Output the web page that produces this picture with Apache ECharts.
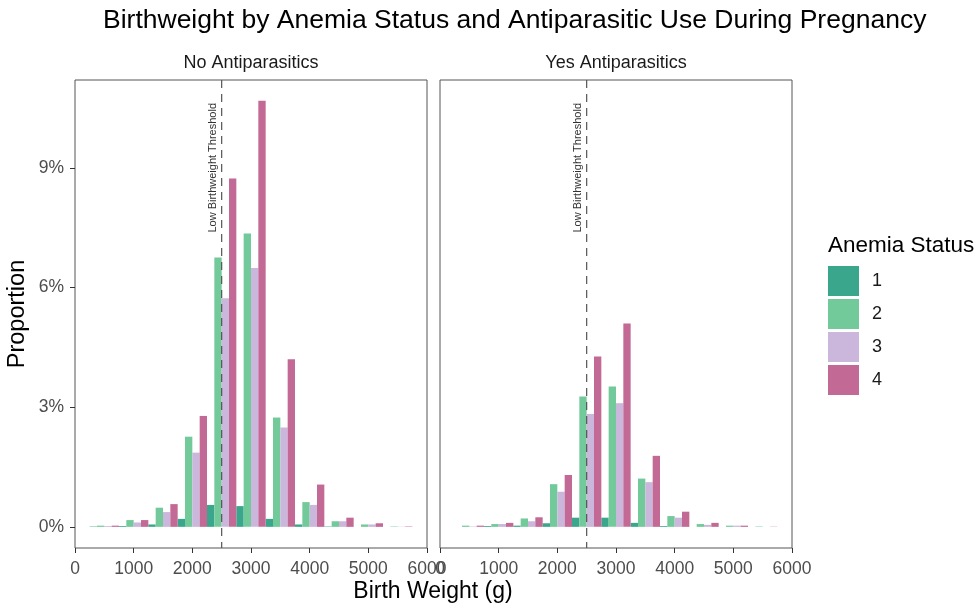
<!DOCTYPE html>
<html>
<head>
<meta charset="utf-8">
<script src="https://cdn.jsdelivr.net/npm/echarts@6/dist/echarts.min.js"></script>
<style>
  html, body { margin: 0; padding: 0; background: #fff; }
  #chart { width: 979px; height: 607px; }
</style>
</head>
<body>
<div id="chart"></div>
<script>
// bin centres (g), each bin 500 g wide, 4 anemia groups dodged inside
const binCenters = [500, 1000, 1500, 2000, 2500, 3000, 3500, 4000, 4500, 5000, 5500];
const binWidth = 500;
const statuses = ["1", "2", "3", "4"];
const colors = ["#3aa68b", "#72c99a", "#cbb6dc", "#c36995"];
const lowBwThreshold = 2500;
const thresholdLabelY = 9; // percent

// proportions in percent
const noAnti1 = [0.01, 0.02, 0.06, 0.20, 0.55, 0.52, 0.20, 0.06, 0.01, 0, 0];
const noAnti2 = [0.03, 0.17, 0.48, 2.26, 6.75, 7.35, 2.74, 0.62, 0.14, 0.06, 0.01];
const noAnti3 = [0.02, 0.11, 0.37, 1.86, 5.73, 6.49, 2.49, 0.55, 0.14, 0.06, 0.005];
const noAnti4 = [0.03, 0.17, 0.57, 2.78, 8.73, 10.68, 4.20, 1.06, 0.23, 0.09, 0.01];

const yesAnti1 = [0, 0.02, 0.03, 0.09, 0.23, 0.23, 0.10, 0.02, 0, 0, 0];
const yesAnti2 = [0.03, 0.07, 0.21, 1.07, 3.27, 3.52, 1.21, 0.27, 0.07, 0.03, 0.01];
const yesAnti3 = [0.01, 0.07, 0.14, 0.88, 2.83, 3.10, 1.12, 0.23, 0.05, 0.03, 0];
const yesAnti4 = [0.03, 0.10, 0.24, 1.30, 4.27, 5.10, 1.78, 0.38, 0.10, 0.03, 0.005];

const yTicks = [0, 3, 6, 9];

const facets = [
  { name: "No Antiparasitics", series: [noAnti1, noAnti2, noAnti3, noAnti4] },
  { name: "Yes Antiparasitics", series: [yesAnti1, yesAnti2, yesAnti3, yesAnti4] }
];

const font = "Liberation Sans, Arial, Helvetica, sans-serif";
const panelLefts = [75, 440];
const panelWidth = 352;

function barRender(params, api) {
  const c = api.value(0), v = api.value(1), k = api.value(2);
  if (!v) return null;
  const x0 = c - binWidth / 2 + k * binWidth / 4;
  const p0 = api.coord([x0, 0]);
  const p1 = api.coord([x0 + binWidth / 4, v]);
  return {
    type: "rect",
    shape: { x: p0[0], y: p1[1], width: p1[0] - p0[0], height: p0[1] - p1[1] },
    style: api.style()
  };
}

function thresholdRender(params, api) {
  const cs = params.coordSys;
  const p = api.coord([api.value(0), api.value(1)]);
  return {
    type: "group",
    children: [
      {
        type: "line",
        shape: { x1: p[0], y1: cs.y, x2: p[0], y2: cs.y + cs.height },
        style: { stroke: "#555", lineWidth: 1.2, lineDash: [8, 6] }
      },
      {
        type: "text",
        x: p[0] - 3,
        y: p[1],
        rotation: Math.PI / 2,
        style: {
          text: "Low Birthweight Threshold",
          fontSize: 11,
          fontFamily: font,
          fill: "#333",
          align: "center",
          verticalAlign: "bottom"
        }
      }
    ]
  };
}

const grids = [], xAxes = [], yAxes = [], series = [];
facets.forEach(function (f, fi) {
  grids.push({
    left: panelLefts[fi], top: 80, width: panelWidth, height: 468,
    show: true, borderColor: "#555", borderWidth: 1, backgroundColor: "#fff"
  });
  xAxes.push({
    type: "value", gridIndex: fi, min: 0, max: 6000, interval: 1000,
    splitLine: { show: false },
    axisLine: { show: false, onZero: false },
    axisTick: { show: true, length: 5, lineStyle: { color: "#333" } },
    axisLabel: {
      color: "#4d4d4d", fontSize: 17.5, fontFamily: font, margin: 12,
      showMinLabel: true, showMaxLabel: true,
      formatter: function (v) { return String(v); }
    }
  });
  yAxes.push({
    type: "value", gridIndex: fi, min: -0.53, max: 11.2,
    splitLine: { show: false },
    axisLine: { show: false, onZero: false },
    axisTick: { show: fi === 0, length: 5, lineStyle: { color: "#333" }, customValues: yTicks },
    axisLabel: {
      show: fi === 0, color: "#4d4d4d", fontSize: 17.5, fontFamily: font, margin: 11,
      customValues: yTicks,
      formatter: function (v) { return v + "%"; }
    }
  });
  f.series.forEach(function (vals, k) {
    series.push({
      type: "custom",
      name: statuses[k],
      xAxisIndex: fi, yAxisIndex: fi,
      itemStyle: { color: colors[k] },
      encode: { x: 0, y: 1 },
      renderItem: barRender,
      silent: true,
      data: binCenters.map(function (c, i) { return [c, vals[i], k]; })
    });
  });
  series.push({
    type: "custom",
    xAxisIndex: fi, yAxisIndex: fi,
    renderItem: thresholdRender,
    silent: true,
    z: 5,
    data: [[lowBwThreshold, thresholdLabelY]]
  });
});

const chart = echarts.init(document.getElementById("chart"));
chart.setOption({
  animation: false,
  backgroundColor: "#fff",
  title: {
    text: "Birthweight by Anemia Status and Antiparasitic Use During Pregnancy",
    left: 98, top: 2,
    textStyle: { fontSize: 26.5, fontWeight: "normal", color: "#000", fontFamily: font }
  },
  legend: {
    orient: "vertical", left: 828, top: 266, padding: 0,
    data: statuses, icon: "rect",
    itemWidth: 31, itemHeight: 30, itemGap: 3,
    selectedMode: false,
    textStyle: { fontSize: 18, color: "#1a1a1a", fontFamily: font, padding: [0, 0, 0, 8] }
  },
  graphic: [
    { type: "text", x: 828, y: 246, style: { text: "Anemia Status", font: "22.5px " + font, fill: "#000", verticalAlign: "middle" } },
    { type: "text", x: panelLefts[0] + panelWidth / 2, y: 63, style: { text: facets[0].name, font: "18px " + font, fill: "#1a1a1a", align: "center", verticalAlign: "middle" } },
    { type: "text", x: panelLefts[1] + panelWidth / 2, y: 63, style: { text: facets[1].name, font: "18px " + font, fill: "#1a1a1a", align: "center", verticalAlign: "middle" } },
    { type: "text", x: 433, y: 592, style: { text: "Birth Weight (g)", font: "23px " + font, fill: "#000", align: "center", verticalAlign: "middle" } },
    { type: "text", x: 18, y: 314, rotation: Math.PI / 2, style: { text: "Proportion", font: "23.5px " + font, fill: "#000", align: "center", verticalAlign: "middle" } }
  ],
  grid: grids,
  xAxis: xAxes,
  yAxis: yAxes,
  series: series
});
</script>
</body>
</html>
